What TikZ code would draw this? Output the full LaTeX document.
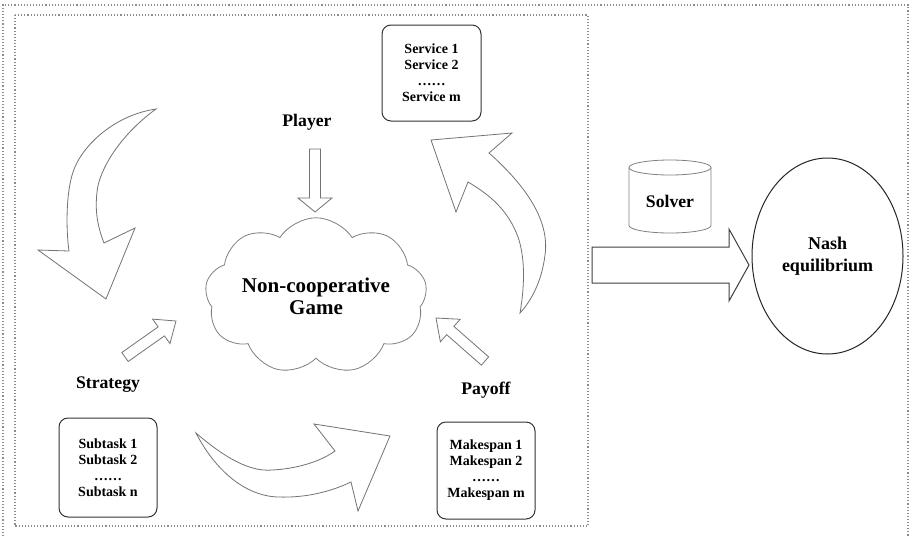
\documentclass[tikz,border=0pt]{standalone}
\usepackage{fontspec}
\setmainfont{Liberation Serif}
\usetikzlibrary{shapes.geometric,shapes.symbols,calc}
\tikzset{
  dotborder/.style={draw=black!45, line width=1.1pt, dash pattern=on 1.1pt off 2pt},
  blockline/.style={draw=black!55, line width=0.8pt, fill=white, line join=miter},
  bigline/.style={draw=black!75, line width=1pt},
  listbox/.style={draw=black!80, line width=1pt, rounded corners=9pt, minimum width=98pt,
    minimum height=97pt, align=center, font=\bfseries\fontsize{14}{16}\selectfont, inner sep=0pt},
  lbl/.style={font=\bfseries\fontsize{17.7}{20}\selectfont, inner sep=0pt, anchor=base},
}
% #1 extra style, #2 tail, #3 tip, #4 shaft half width, #5 head half width, #6 head length
\newcommand{\blkarrow}[6][]{%
  \path ($(#3)!#6!(#2)$) coordinate (ba-h);
  \draw[blockline,#1] ($(#2)!#4!90:(#3)$) -- ($(ba-h)!#4!90:(#3)$) -- ($(ba-h)!#5!90:(#3)$)
    -- (#3) -- ($(ba-h)!#5!-90:(#3)$) -- ($(ba-h)!#4!-90:(#3)$) -- ($(#2)!#4!-90:(#3)$) -- cycle;
}
\begin{document}
\begin{tikzpicture}[x=1pt,y=-1pt]
\useasboundingbox (0,0) rectangle (912,536);
\fill[white] (0,0) rectangle (912,536);

% borders
\draw[dotborder] (3,536) -- (3,5) -- (908,5) -- (908,536);
\draw[dotborder] (15,15) rectangle (588,526);

% curved arrow top-left (strategy side)
\draw[blockline] (156,109) .. controls (115,115) and (82,145) .. (73,172)
  .. controls (65.8,193.6) and (66,230) .. (69,251)
  -- (38,250) -- (106,299) -- (135,228) -- (104,243)
  .. controls (97,225) and (95,210) .. (97,192)
  .. controls (99,170) and (120,135) .. (156,109) -- cycle;

% curved arrow right (payoff -> services)
\draw[blockline] (489,153) .. controls (525,185) and (550,220) .. (545,255)
  .. controls (542,280) and (532,300) .. (520,313)
  .. controls (524,290) and (526,260) .. (518,237)
  .. controls (508,210) and (490,195) .. (468,182)
  -- (456,212) -- (431,140) -- (512,133) -- cycle;

% curved arrow bottom (subtasks -> makespans)
\draw[blockline] (196,433) .. controls (225,458) and (250,472) .. (272,470)
  .. controls (295,469) and (320,462) .. (335,451)
  -- (314,424) -- (390,436) -- (358,511) -- (351,482)
  .. controls (330,492) and (305,498) .. (278,497)
  .. controls (245,496) and (215,470) .. (196,433) -- cycle;

% straight block arrows
\coordinate (pl-t) at (315,149); \coordinate (pl-h) at (315,212);
\coordinate (st-t) at (125,357); \coordinate (st-h) at (176,321);
\coordinate (po-t) at (485,361); \coordinate (po-h) at (436,318);
\coordinate (ne-t) at (592,265); \coordinate (ne-h) at (749,265);
\blkarrow{pl-t}{pl-h}{5.5pt}{17pt}{14pt}
\blkarrow{st-t}{st-h}{5.5pt}{15pt}{18pt}
\blkarrow{po-t}{po-h}{5.5pt}{15pt}{19pt}
\blkarrow[bigline]{ne-t}{ne-h}{18pt}{36pt}{20pt}

% list boxes
\node[listbox, minimum width=99pt, minimum height=96pt] (svc) at (431.5,73) {Service 1\\Service 2\\……\\Service m};
\node[listbox, minimum height=99pt] (sub) at (108,467.5) {Subtask 1\\Subtask 2\\……\\Subtask n};
\node[listbox] (mk) at (486,470.5) {Makespan 1\\Makespan 2\\……\\Makespan m};

% labels
\node[lbl] (player) at (307,126) {Player};
\node[lbl] (strategy) at (108,388) {Strategy};
\node[lbl] (payoff) at (486,394) {Payoff};

% cloud
\node[cloud, cloud puffs=9, cloud puff arc=115, aspect=1.68, draw=black!50, line width=0.8pt,
  minimum width=222pt, minimum height=132pt, inner sep=0pt, align=center,
  font=\bfseries\fontsize{21}{22}\selectfont] (game) at (316,296) {Non-cooperative\\Game};

% solver cylinder
\draw[draw=black!50, line width=0.8pt] (629,167.5) -- (629,225.5)
  .. controls (629,229.6) and (647.4,233) .. (670,233)
  .. controls (692.6,233) and (711,229.6) .. (711,225.5) -- (711,167.5);
\draw[draw=black!50, line width=0.8pt] (670,167.5) ellipse [x radius=41, y radius=7.5];
\node[lbl] (solver) at (670,207) {Solver};

% Nash equilibrium
\node[ellipse, draw=black!85, line width=1pt, minimum width=151pt, minimum height=196pt,
  inner sep=0pt, align=center, font=\bfseries\fontsize{18}{22}\selectfont] (nash) at (827.5,256) {Nash\\equilibrium};
\end{tikzpicture}
\end{document}
